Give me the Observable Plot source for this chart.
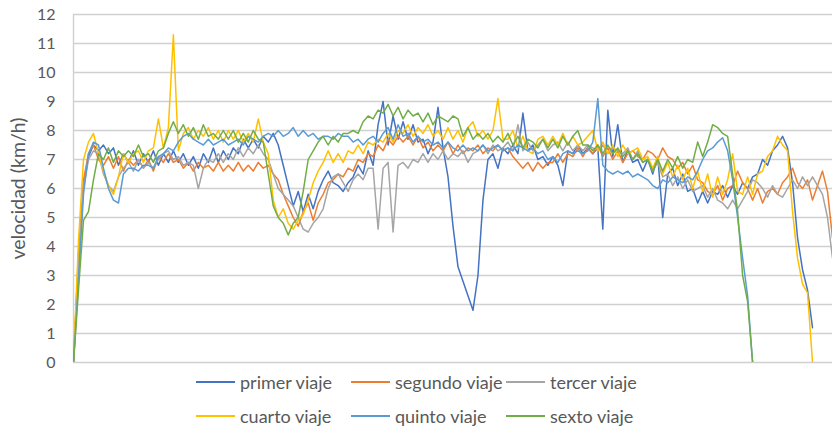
<!DOCTYPE html>
<html>
<head>
<meta charset="utf-8">
<script src="https://cdn.jsdelivr.net/npm/d3@7"></script>
<script src="https://cdn.jsdelivr.net/npm/@observablehq/plot@0.6"></script>
<style>
  html, body { margin: 0; padding: 0; background: #fff; }
  #wrap { position: relative; width: 832px; height: 428px; overflow: hidden; font-family: Lato, "Open Sans", sans-serif; }
  #wrap svg { display: block; }
  .leg { position: absolute; display: flex; align-items: center; font-size: 18px; line-height: 20px; color: #595959; white-space: nowrap; height: 20px; }
  .leg .sw { display: inline-block; width: 39px; height: 1.6px; margin-right: 5px; }
</style>
</head>
<body>
<div id="wrap"></div>
<script>
// y-axis ticks
const yTicks = [0, 1, 2, 3, 4, 5, 6, 7, 8, 9, 10, 11, 12];
const seriesNames = ["primer viaje", "segundo viaje", "tercer viaje", "cuarto viaje", "quinto viaje", "sexto viaje"];
const seriesColors = ["#4472C4", "#ED7D31", "#A5A5A5", "#FFC000", "#5B9BD5", "#70AD47"];

// velocity samples (km/h), one value per sample index
const primer = [0,3.2,6.1,7.1,7.5,7.3,7.5,7.2,7.4,6.8,7.2,6.9,7.3,6.8,7.2,6.9,7.3,6.8,7.2,6.9,
  7.3,6.9,7.2,6.8,7.1,6.7,7.2,6.9,7.4,6.9,7.3,7.0,7.4,7.2,7.7,7.4,7.7,7.4,7.8,7.6,
  7.9,7.5,6.8,6.1,5.4,5.9,5.2,5.8,5.3,5.9,6.3,6.6,6.2,6.1,5.9,6.2,6.4,6.8,6.5,7.3,
  6.8,8.2,9.0,7.5,8.5,7.7,8.3,7.7,8.2,7.6,7.7,7.2,7.6,8.8,7.4,6.4,4.7,3.3,2.8,2.3,
  1.8,3.0,5.6,7.0,7.2,6.7,7.4,7.2,7.5,7.2,8.6,7.3,7.5,7.0,7.1,6.8,7.1,6.8,6.1,7.3,
  7.2,7.5,7.2,7.4,7.2,7.4,4.6,8.7,7.1,8.2,6.9,7.3,6.9,7.0,6.6,7.0,6.5,7.1,5.0,6.5,
  6.7,6.1,6.5,5.9,6.0,5.5,5.9,5.5,5.9,5.8,6.1,5.7,6.1,5.8,6.2,6.0,6.4,6.5,7.0,6.8,
  7.3,7.5,7.8,7.4,6.2,4.3,3.2,2.5,1.2];
const segundo = [0,3.8,6.3,7.2,7.5,7.0,6.8,7.1,6.7,7.1,6.6,7.0,6.8,7.0,6.7,7.0,6.6,7.1,6.9,7.2,
  6.9,7.0,6.7,6.9,6.6,6.9,6.7,6.8,6.6,6.9,6.6,6.8,6.6,6.9,6.6,6.8,6.6,6.9,6.7,6.8,
  6.5,6.3,5.8,5.4,5.0,4.7,5.2,5.5,4.9,5.5,5.8,6.2,6.3,6.5,6.4,6.7,6.6,7.0,6.9,7.2,
  7.1,7.5,7.3,7.7,7.5,7.8,7.6,7.8,7.5,7.8,7.4,7.6,7.3,7.5,7.3,7.6,7.2,7.5,7.2,7.4,
  7.3,7.5,7.2,7.4,7.3,7.5,7.3,7.4,7.1,6.9,6.7,6.9,6.6,6.9,6.7,6.9,6.9,7.2,6.9,7.2,
  7.1,7.4,7.1,7.4,7.2,7.5,7.1,7.4,7.0,7.3,6.9,7.2,7.3,7.1,7.0,7.3,7.2,7.0,7.4,7.1,
  7.0,6.7,6.9,6.5,6.8,6.3,6.2,5.9,5.8,6.1,5.6,6.0,6.1,6.6,6.2,6.0,5.6,6.0,5.5,5.9,
  6.0,5.8,6.2,6.4,6.7,6.2,6.0,6.3,5.6,6.1,6.6,5.9,4.3];
const tercer = [0,3.5,6.0,7.0,7.3,7.2,6.5,6.1,5.9,6.4,6.7,6.9,6.6,7.0,6.7,6.9,6.7,7.0,7.2,7.3,
  7.0,7.1,6.8,6.9,6.8,6.0,6.7,7.0,6.9,7.2,6.9,7.2,7.0,7.4,7.1,7.4,7.2,7.5,7.2,7.0,
  6.5,6.0,5.8,5.6,5.4,5.0,4.6,4.5,4.8,5.0,5.3,6.0,6.4,6.5,6.2,5.9,6.3,6.5,6.3,6.7,
  6.7,4.6,6.7,6.9,4.5,6.8,6.9,6.7,7.0,6.9,7.2,6.9,7.2,7.0,7.3,7.0,7.2,7.1,7.3,6.9,
  7.2,7.3,7.5,7.2,7.5,7.3,7.4,7.6,7.3,8.2,7.3,7.6,7.3,7.5,7.7,7.3,7.5,7.6,7.3,7.6,
  7.3,7.5,7.3,7.5,7.4,7.3,7.5,7.2,7.4,7.3,7.2,7.4,7.0,7.3,6.9,7.0,6.6,6.9,6.4,6.5,
  6.1,6.4,6.0,6.3,5.9,6.0,6.1,5.7,6.0,5.6,5.5,5.3,5.6,5.3,5.6,5.9,6.3,6.2,6.0,5.7,
  6.1,5.8,5.7,6.0,6.3,6.0,6.4,6.1,6.4,6.1,5.8,5.0,3.6];
const cuarto = [0,4.2,7.0,7.6,7.9,7.2,6.6,6.1,5.8,6.4,7.2,6.9,7.2,7.3,6.9,7.3,7.4,8.4,7.4,8.1,
  11.3,7.3,7.9,8.1,7.7,8.0,7.8,8.1,7.7,8.0,7.6,8.0,7.7,8.0,7.6,7.9,7.6,8.4,7.6,7.2,
  5.6,5.0,5.3,4.8,4.6,4.9,5.1,5.6,6.2,6.6,6.9,7.3,6.9,7.2,6.9,7.3,7.2,7.5,7.2,7.6,
  7.5,7.7,7.6,7.9,7.6,8.0,7.9,8.2,7.8,8.1,7.9,8.2,7.8,8.0,7.7,8.1,7.7,8.0,7.6,8.1,
  8.3,7.8,8.0,7.7,8.0,9.1,7.7,7.7,8.0,7.4,7.8,7.3,7.2,7.7,7.8,7.5,7.8,7.5,7.9,7.5,
  7.8,7.5,7.6,7.8,8.0,7.3,7.6,7.2,7.5,7.1,7.5,7.2,7.3,7.4,7.0,7.1,6.7,7.1,6.5,6.9,
  6.4,6.8,6.3,6.7,6.0,6.6,5.9,6.5,5.7,6.4,5.8,6.3,7.2,5.9,5.8,6.4,5.8,6.5,6.6,7.1,
  7.3,7.8,7.5,7.3,5.2,3.6,2.7,2.4,0];
const quinto = [0,2.8,5.8,7.2,7.6,7.5,6.7,6.0,5.6,5.5,6.5,6.7,6.7,6.6,6.8,6.8,6.7,7.1,7.2,7.4,
  7.3,7.6,7.8,7.9,7.7,7.6,7.5,7.7,7.5,7.6,7.7,7.5,7.6,7.7,7.5,7.8,7.7,7.6,7.8,7.9,
  7.8,8.0,7.8,7.9,8.1,7.8,8.0,7.8,7.9,7.7,7.8,7.8,7.7,7.9,7.8,7.8,7.6,7.7,7.5,7.7,
  7.8,7.6,7.9,8.1,7.7,8.2,7.8,7.9,7.6,7.8,7.6,7.7,7.5,7.6,7.4,7.6,7.4,7.3,7.5,7.3,
  7.4,7.3,7.5,7.3,7.4,7.5,7.3,7.4,7.3,7.5,7.4,7.3,7.4,7.2,7.3,7.0,7.1,6.9,7.2,7.3,
  7.2,7.3,7.2,7.3,7.6,9.1,6.8,6.6,6.5,6.6,6.5,6.6,6.4,6.5,6.4,6.3,6.1,6.0,6.3,6.2,
  6.4,6.3,6.2,6.4,6.3,6.6,7.0,7.3,7.4,7.6,7.75,7.3,6.3,5.0,3.6,2.3,0];
const sexto = [0,2.5,4.9,5.2,6.3,7.2,7.0,7.4,6.9,7.3,7.1,7.3,7.1,7.5,7.1,7.2,6.9,7.3,7.4,7.9,
  8.3,7.9,8.2,7.8,8.1,7.7,8.2,7.8,7.9,7.7,8.0,7.7,8.0,7.6,7.9,7.6,8.0,7.7,7.6,6.5,
  5.4,5.0,4.8,4.4,4.8,5.0,5.9,7.0,7.3,7.6,7.8,7.5,7.8,7.6,7.9,7.9,8.0,7.9,8.3,8.5,
  8.4,8.7,8.6,8.9,8.5,8.8,8.4,8.7,8.5,8.6,8.3,8.6,8.2,8.5,8.4,8.3,8.5,8.4,7.8,8.1,
  7.7,7.9,7.7,7.9,7.6,7.8,7.6,7.9,7.5,7.8,7.4,7.7,7.6,7.4,7.7,7.4,7.7,7.4,7.8,7.5,
  7.8,8.0,7.5,7.5,7.3,7.5,7.2,7.5,7.2,7.4,7.1,7.3,7.0,7.2,6.9,7.0,6.6,7.0,6.6,7.0,
  6.7,7.1,6.7,7.0,6.9,7.6,7.1,7.6,8.2,8.1,7.9,7.8,6.5,5.2,3.0,2.1,0];

const allSeries = [primer, segundo, tercer, cuarto, quinto, sexto];
const nSamples = 152;

const rows = [];
allSeries.forEach((vals, s) => vals.forEach((v, i) => rows.push({serie: seriesNames[s], i, v})));

const chart = Plot.plot({
  width: 832,
  height: 370,
  marginLeft: 73,
  marginRight: 0,
  marginTop: 14,
  marginBottom: 8,
  style: {fontFamily: "Lato, 'Open Sans', sans-serif", fontSize: "16px", color: "#595959", background: "#fff"},
  x: {domain: [0, nSamples], axis: null},
  y: {domain: [0, 12], ticks: yTicks, tickSize: 0, tickPadding: 18, label: null, tickFormat: d3.format("d")},
  marks: [
    Plot.ruleY(yTicks, {stroke: "#d0d0d0", strokeWidth: 1.4}),
    Plot.ruleX([0], {stroke: "#d0d0d0", strokeWidth: 1.4}),
    ...seriesNames.map((name, s) =>
      Plot.line(rows.filter(r => r.serie === name), {x: "i", y: "v", stroke: seriesColors[s], strokeWidth: 1.5, strokeLinejoin: "round", clip: true})
    ),
    Plot.text(["velocidad (km/h)"], {frameAnchor: "left", textAnchor: "middle", dx: -55, rotate: -90, fontSize: 19.5, fill: "#595959"})
  ]
});

const wrap = document.getElementById("wrap");
wrap.appendChild(chart);

// legend
const colLeft = [196, 351, 506];
const rowCenter = [382, 416];
seriesNames.forEach((name, s) => {
  const d = document.createElement("div");
  d.className = "leg";
  d.style.left = colLeft[s % 3] + "px";
  d.style.top = (rowCenter[Math.floor(s / 3)] - 10) + "px";
  const sw = document.createElement("span");
  sw.className = "sw";
  sw.style.backgroundColor = seriesColors[s];
  const t = document.createElement("span");
  t.textContent = name;
  d.appendChild(sw);
  d.appendChild(t);
  wrap.appendChild(d);
});
</script>
</body>
</html>
